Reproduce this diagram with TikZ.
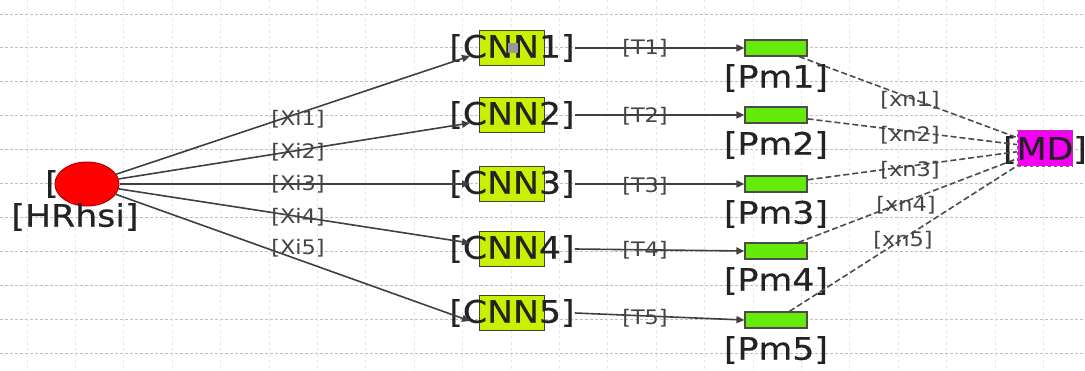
\documentclass[tikz,border=0pt]{standalone}
\usepackage{fontspec}
\usetikzlibrary{arrows.meta,shapes.geometric}
\newfontfamily\labfont[FakeStretch=1.12,FakeBold=0.4]{DejaVu Sans}
\newfontfamily\tagfont[FakeStretch=1.12]{DejaVu Sans}
\definecolor{cnnfill}{RGB}{200,240,0}
\definecolor{pmfill}{RGB}{100,235,10}
\definecolor{mdfill}{RGB}{245,0,245}
\definecolor{ink}{RGB}{35,35,35}
\tikzset{
  biglab/.style={font=\labfont\fontsize{31}{31}\selectfont, text=ink, inner sep=0pt},
  smalllab/.style={font=\tagfont\fontsize{20}{20}\selectfont, text=ink!85, inner sep=0pt},
  cnnbox/.style={draw=black!65!olive, fill=cnnfill, line width=1pt, minimum width=65pt, minimum height=35pt, inner sep=0pt},
  pmbox/.style={draw=black!70, fill=pmfill, line width=1.2pt, minimum width=62pt, minimum height=16pt, inner sep=0pt},
  mdbox/.style={draw=black!60, dashed, fill=mdfill, line width=0.8pt, minimum width=55pt, minimum height=36pt, inner sep=0pt},
  feed/.style={draw=black!75, line width=1.6pt, -{Triangle[length=8pt,width=7pt]}},
  vote/.style={draw=black!70, line width=1.6pt, dash pattern=on 6pt off 3pt},
  gridh/.style={draw=black!25, line width=0.9pt, dash pattern=on 3pt off 2pt},
  gridv/.style={draw=black!10, line width=0.8pt, dash pattern=on 3pt off 3pt},
}
\begin{document}
\begin{tikzpicture}[x=1pt,y=-1pt]
\useasboundingbox (0,0) rectangle (1085,370);
\fill[white] (0,0) rectangle (1085,370);

% background grid
\foreach \i in {0,...,10} \draw[gridh] (0,14+33.9*\i) -- (1085,14+33.9*\i);
\foreach \i in {0,...,21} \draw[gridv] (27+48.4*\i,0) -- (27+48.4*\i,370);

% input sample
\node[biglab] (hbr) at (52,184) {[};
\node[draw=red!70!black, fill=red, ellipse, minimum width=64pt, minimum height=44pt, inner sep=0pt, line width=1pt] (hr) at (87,184) {};
\node[biglab] (hrlab) at (75,217) {[HRhsi]};

% CNN branches
\foreach \k/\y in {1/48,2/115,3/184,4/249,5/313}{
  \node[cnnbox] (cb\k) at (512,\y) {};
  \node[biglab] (cnn\k) at (512,\y) {[CNN\k]};
  \coordinate (cin\k) at (470,\y+8);
}
\coordinate (cin3) at (470,184);
\coordinate (cin4) at (470,243);
\fill[black!40] (508,43) rectangle (518,53);

% probability maps
\foreach \k/\y in {1/48,2/115,3/184,4/251,5/320}{
  \node[pmbox] (pm\k) at (776,\y) {};
  \node[biglab] (pmlab\k) at (776,\y+30) {[Pm\k]};
}

% decision node
\node[mdbox] (md) at (1045,148) {};
\node[biglab] (mdlab) at (1045,150) {[MD]};

% connectors: input to CNNs
\foreach \k in {1,...,5} \draw[feed] (hr) -- (cin\k);
\node[smalllab] (xi1) at (298,119) {[Xi1]};
\node[smalllab] (xi2) at (298,152) {[Xi2]};
\node[smalllab] (xi3) at (298,184) {[Xi3]};
\node[smalllab] (xi4) at (298,217) {[Xi4]};
\node[smalllab] (xi5) at (298,248) {[Xi5]};

% connectors: CNNs to probability maps
\foreach \k in {1,...,5} \draw[feed] (cnn\k.east) -- (pm\k.west);
\foreach \k/\y in {1/48,2/116,3/186,4/250,5/318}
  \node[smalllab] (t\k) at (645,\y) {[T\k]};

% connectors: probability maps to decision
\foreach \k in {1,...,5} \draw[vote] (pm\k) -- (md);
\node[smalllab] (xn1) at (910,100) {[xn1]};
\node[smalllab] (xn2) at (910,135) {[xn2]};
\node[smalllab] (xn3) at (910,170) {[xn3]};
\node[smalllab] (xn4) at (906,205) {[xn4]};
\node[smalllab] (xn5) at (903,240) {[xn5]};
\end{tikzpicture}
\end{document}
